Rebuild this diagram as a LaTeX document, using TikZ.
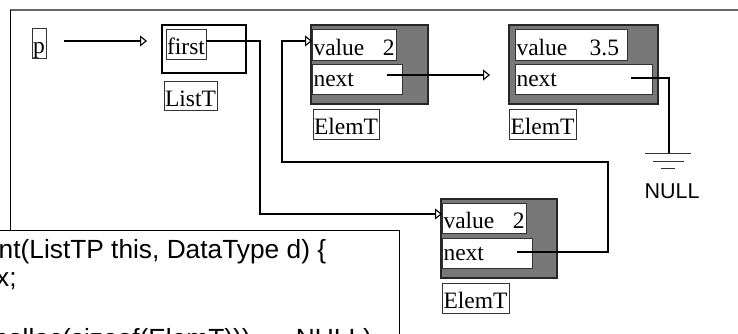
\documentclass[tikz,border=0pt]{standalone}
\usepackage{fontspec}
\setmainfont{Liberation Serif}
\newfontfamily\codefont{Liberation Sans}
\usetikzlibrary{arrows.meta}

\begin{document}
\begin{tikzpicture}[x=1pt,y=-1pt,
  serif/.style={font=\fontsize{23.5pt}{28pt}\selectfont, text depth=0pt, text height=21pt},
  lowtxt/.style={text height=15.5pt},
  field/.style={serif, draw=black!80, fill=white, line width=0.8pt,
    inner sep=0pt, outer sep=0pt, anchor=north west},
  elem/.style={draw=black!85, fill=black!53, line width=1.4pt,
    inner sep=0pt, outer sep=0pt, anchor=north west},
  wire/.style={line width=1.1pt},
  ptr/.style={wire, -{Triangle[open, length=7pt, width=11pt]}},
  gndline/.style={draw=black!80, line width=0.9pt},
  code/.style={font=\codefont\fontsize{26.3pt}{28pt}\selectfont, anchor=base west, inner sep=0pt}
]
\useasboundingbox (0,0) rectangle (738,333);
\clip (0,0) rectangle (738,333);

% surrounding frame
\draw[black!60, line width=1.4pt] (10,10) -- (745,10);
\draw[black, line width=0.9pt] (10,10) -- (10,230);

% code listing box
\draw[line width=0.9pt, fill=white] (-10,230) rectangle (399,350);
\node[code] (l1) at (-1.5,258) {nt(ListTP this, DataType d) \{};
\node[code] (l2) at (-4,286) {x;};
\node[code] (l4) at (-14,347) {malloc(sizeof(ElemT))) == NULL)};

% pointer variable and list header
\node[field, minimum width=14pt, minimum height=30pt] (pbox) at (32,28) {p};
\node[draw=black, line width=1.8pt, fill=white, minimum width=84pt, minimum height=48pt,
  inner sep=0pt, outer sep=0pt, anchor=north west] (listT) at (162,25) {};
\node[field, minimum width=40pt, minimum height=30pt] (first) at (166,29) {first};
\node[field, minimum width=53pt, minimum height=29pt] (listTlbl) at (164,81) {ListT};

% element 1
\node[elem, minimum width=117pt, minimum height=79pt] (e1) at (311,25) {};
\node[field, minimum width=84pt, minimum height=31pt] (e1v) at (312,29) {\makebox[81pt][l]{value\hfill 2}};
\node[field, lowtxt, minimum width=90pt, minimum height=30pt] (e1n) at (312,64) {\makebox[87pt][l]{next}};
\node[field, minimum width=66pt, minimum height=30pt] (e1l) at (313,109) {ElemT};

% element 2
\node[elem, minimum width=149pt, minimum height=79pt] (e2) at (509,25) {};
\node[field, minimum width=112pt, minimum height=31pt] (e2v) at (515,29) {\makebox[109pt][l]{value\hfill 3.5\hspace*{6.5pt}}};
\node[field, lowtxt, minimum width=137pt, minimum height=30pt] (e2n) at (515,64) {\makebox[134pt][l]{next}};
\node[field, minimum width=67pt, minimum height=30pt] (e2l) at (509,109) {ElemT};

% element 3 (newly inserted)
\node[elem, minimum width=116pt, minimum height=79pt] (e3) at (441,199) {};
\node[field, minimum width=84pt, minimum height=30pt] (e3v) at (442,203) {\makebox[81pt][l]{value\hfill 2}};
\node[field, lowtxt, minimum width=90pt, minimum height=30pt] (e3n) at (442,238) {\makebox[87pt][l]{next}};
\node[field, minimum width=67pt, minimum height=30pt] (e3l) at (442,283) {ElemT};

% p -> list header
\draw[ptr, shorten <=18pt, shorten >=15pt] ([yshift=2pt]pbox.east) -- ([yshift=2pt]pbox.east -| listT.west);

% first -> element 3
\draw[ptr] ([yshift=3pt]first.east) -- ++(54,0) |- ([yshift=4pt]e3v.west);

% element 1 next -> element 2
\coordinate (s1) at ([xshift=75pt,yshift=4pt]e1n.west);
\draw[ptr, shorten >=19pt] (s1) -- (s1 -| e2.west);

% element 2 next -> NULL
\coordinate (s2) at ([xshift=116pt,yshift=1pt]e2n.west);
\coordinate (gnd) at (669,153);
\draw[wire] (s2) -| (gnd);
\draw[gndline] ([xshift=-24pt]gnd) -- ([xshift=22pt]gnd);
\draw[gndline] ([xshift=-16pt,yshift=-8pt]gnd) -- ([xshift=15pt,yshift=-8pt]gnd);
\draw[gndline] ([xshift=-8pt,yshift=-15pt]gnd) -- ([xshift=6pt,yshift=-15pt]gnd);
\node[font=\codefont\fontsize{21.5pt}{24pt}\selectfont, anchor=base, inner sep=0pt] (null) at (672,198) {NULL};

% element 3 next -> element 1
\coordinate (s3) at ([xshift=75pt,yshift=1pt]e3n.west);
\coordinate (c1) at (608,162);
\coordinate (c2) at (282,162);
\coordinate (t1) at ([yshift=3.5pt]e1v.west);
\draw[ptr] (s3) -| (c1) -- (c2) |- (t1);
\end{tikzpicture}
\end{document}
